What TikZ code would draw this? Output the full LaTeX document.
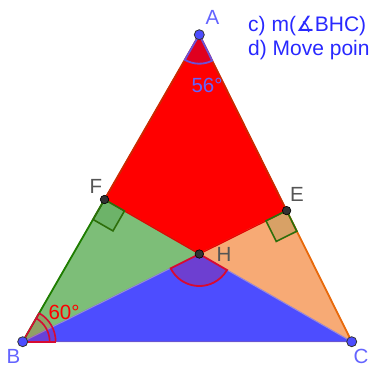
\documentclass[tikz,border=0pt]{standalone}
\usepackage{fontspec}
\setmainfont{Liberation Sans}
\newfontfamily\symfont{DejaVu Sans}
\usetikzlibrary{calc}
\definecolor{redfill}{RGB}{255,0,0}
\definecolor{redline}{RGB}{205,40,0}
\definecolor{greenfill}{RGB}{125,190,120}
\definecolor{greenline}{RGB}{30,125,0}
\definecolor{orangefill}{RGB}{247,170,117}
\definecolor{orangeline}{RGB}{232,105,10}
\definecolor{bluefill}{RGB}{77,77,255}
\definecolor{blueline}{RGB}{105,85,210}
\definecolor{ptblue}{RGB}{77,77,255}
\definecolor{ptdark}{RGB}{50,50,50}
\definecolor{lblblue}{RGB}{100,100,255}
\definecolor{lblgray}{RGB}{85,85,85}
\definecolor{txtblue}{RGB}{40,40,255}
\definecolor{angred}{RGB}{215,10,50}
\definecolor{angblue}{RGB}{110,80,215}
\definecolor{rightgreen}{RGB}{45,110,10}
\tikzset{
  vtx/.style={circle,fill=ptblue,draw=black!80,line width=0.8pt,inner sep=0pt,minimum size=10pt},
  ftp/.style={circle,fill=ptdark,draw=black,line width=0.6pt,inner sep=0pt,minimum size=8.5pt},
  lbl/.style={font=\fontsize{20.5}{24}\selectfont,inner sep=0pt,anchor=base},
  txt/.style={font=\fontsize{21}{24}\selectfont,inner sep=0pt,anchor=base west,text=txtblue},
  side/.style={line width=1.8pt,line cap=round},
  rsq/.style={draw=rightgreen,line width=1.6pt,fill=green!40!black,fill opacity=0.12},
}
\begin{document}
\begin{tikzpicture}[x=1pt,y=1pt]
\useasboundingbox (0,0) rectangle (371,-367);
\clip (0,0) rectangle (371,-367);
\coordinate (A) at (199.3,-34.7);
\coordinate (B) at (22.7,-341.7);
\coordinate (C) at (351.7,-341.7);
\coordinate (F) at (104.5,-199.5);
\coordinate (E) at (286.6,-210.6);
\coordinate (H) at (199.3,-254.0);
% regions
\filldraw[fill=redfill,draw=redfill!85!black,line width=1pt] (A) -- (F) -- (H) -- (E) -- cycle;
\filldraw[fill=greenfill,draw=greenline!70,line width=1pt] (B) -- (F) -- (H) -- cycle;
\filldraw[fill=orangefill,draw=orangeline!70,line width=1pt] (H) -- (E) -- (C) -- cycle;
\filldraw[fill=bluefill,draw=blueline!70,line width=1pt] (B) -- (H) -- (C) -- cycle;
% sides
\draw[side,redline] (A) -- (F);
\draw[side,redline] (A) -- (E);
\draw[side,greenline] (F) -- (B);
\draw[side,orangeline] (E) -- (C);
\draw[line width=1.2pt,blueline] (B) -- (C);
\draw[line width=1.2pt,redfill!90!black] (F) -- (H) -- (E);
% right angles
\coordinate (F1) at ($(F)!23pt!(B)$);
\coordinate (F2) at ($(F)!23pt!(C)$);
\coordinate (E1) at ($(E)!23pt!(C)$);
\coordinate (E2) at ($(E)!23pt!(B)$);
\draw[rsq] (F) -- (F1) -- ($(F1)+(F2)-(F)$) -- (F2) -- cycle;
\draw[rsq] (E) -- (E1) -- ($(E1)+(E2)-(E)$) -- (E2) -- cycle;
% angle A
\fill[blue,opacity=0.12] (A) -- ++(240.1:29) arc[start angle=240.1,end angle=296.4,radius=29] -- cycle;
\draw[angblue,line width=1.8pt] (A) -- ++(240.1:29) arc[start angle=240.1,end angle=296.4,radius=29] -- cycle;
% angle B
\fill[red,opacity=0.15] (B) -- ++(0:33) arc[start angle=0,end angle=60.1,radius=33] -- cycle;
\draw[angred,line width=1.6pt] ($(B)+(33,0)$) arc[start angle=0,end angle=60.1,radius=33];
\draw[angred,line width=1.6pt] ($(B)+(27,0)$) arc[start angle=0,end angle=60.1,radius=27];
\draw[angred,line width=1.6pt] (B) -- ++(0:33);
\draw[angred,line width=1.6pt] (B) -- ++(60.1:33);
% angle H
\fill[red,opacity=0.18] (H) -- ++(206.6:32) arc[start angle=206.6,end angle=329.9,radius=32] -- cycle;
\draw[angred,line width=1.8pt] (H) -- ++(206.6:32) arc[start angle=206.6,end angle=329.9,radius=32] -- cycle;
% points
\node[vtx] (pA) at (A) {};
\node[vtx] (pB) at (B) {};
\node[vtx] (pC) at (C) {};
\node[ftp] (pF) at (F) {};
\node[ftp] (pE) at (E) {};
\node[ftp] (pH) at (H) {};
% labels
\node[lbl,text=lblblue] (lA) at (212.5,-24) {A};
\node[lbl,text=lblblue] (lB) at (13.5,-363) {B};
\node[lbl,text=lblblue] (lC) at (361,-363) {C};
\node[lbl,text=lblgray] (lF) at (96,-193) {F};
\node[lbl,text=lblgray] (lE) at (297,-201.5) {E};
\node[lbl,text=lblgray] (lH) at (224,-261.5) {H};
\node[lbl,text=red] (a60) at (64,-319) {60°};
\node[lbl,text=lblblue] (a56) at (207,-92) {56°};
% text
\node[txt] (tc) at (248,-31) {c) m({\symfont ∡}BHC)};
\node[txt] (td) at (248,-55) {d) Move poin};
\end{tikzpicture}
\end{document}
